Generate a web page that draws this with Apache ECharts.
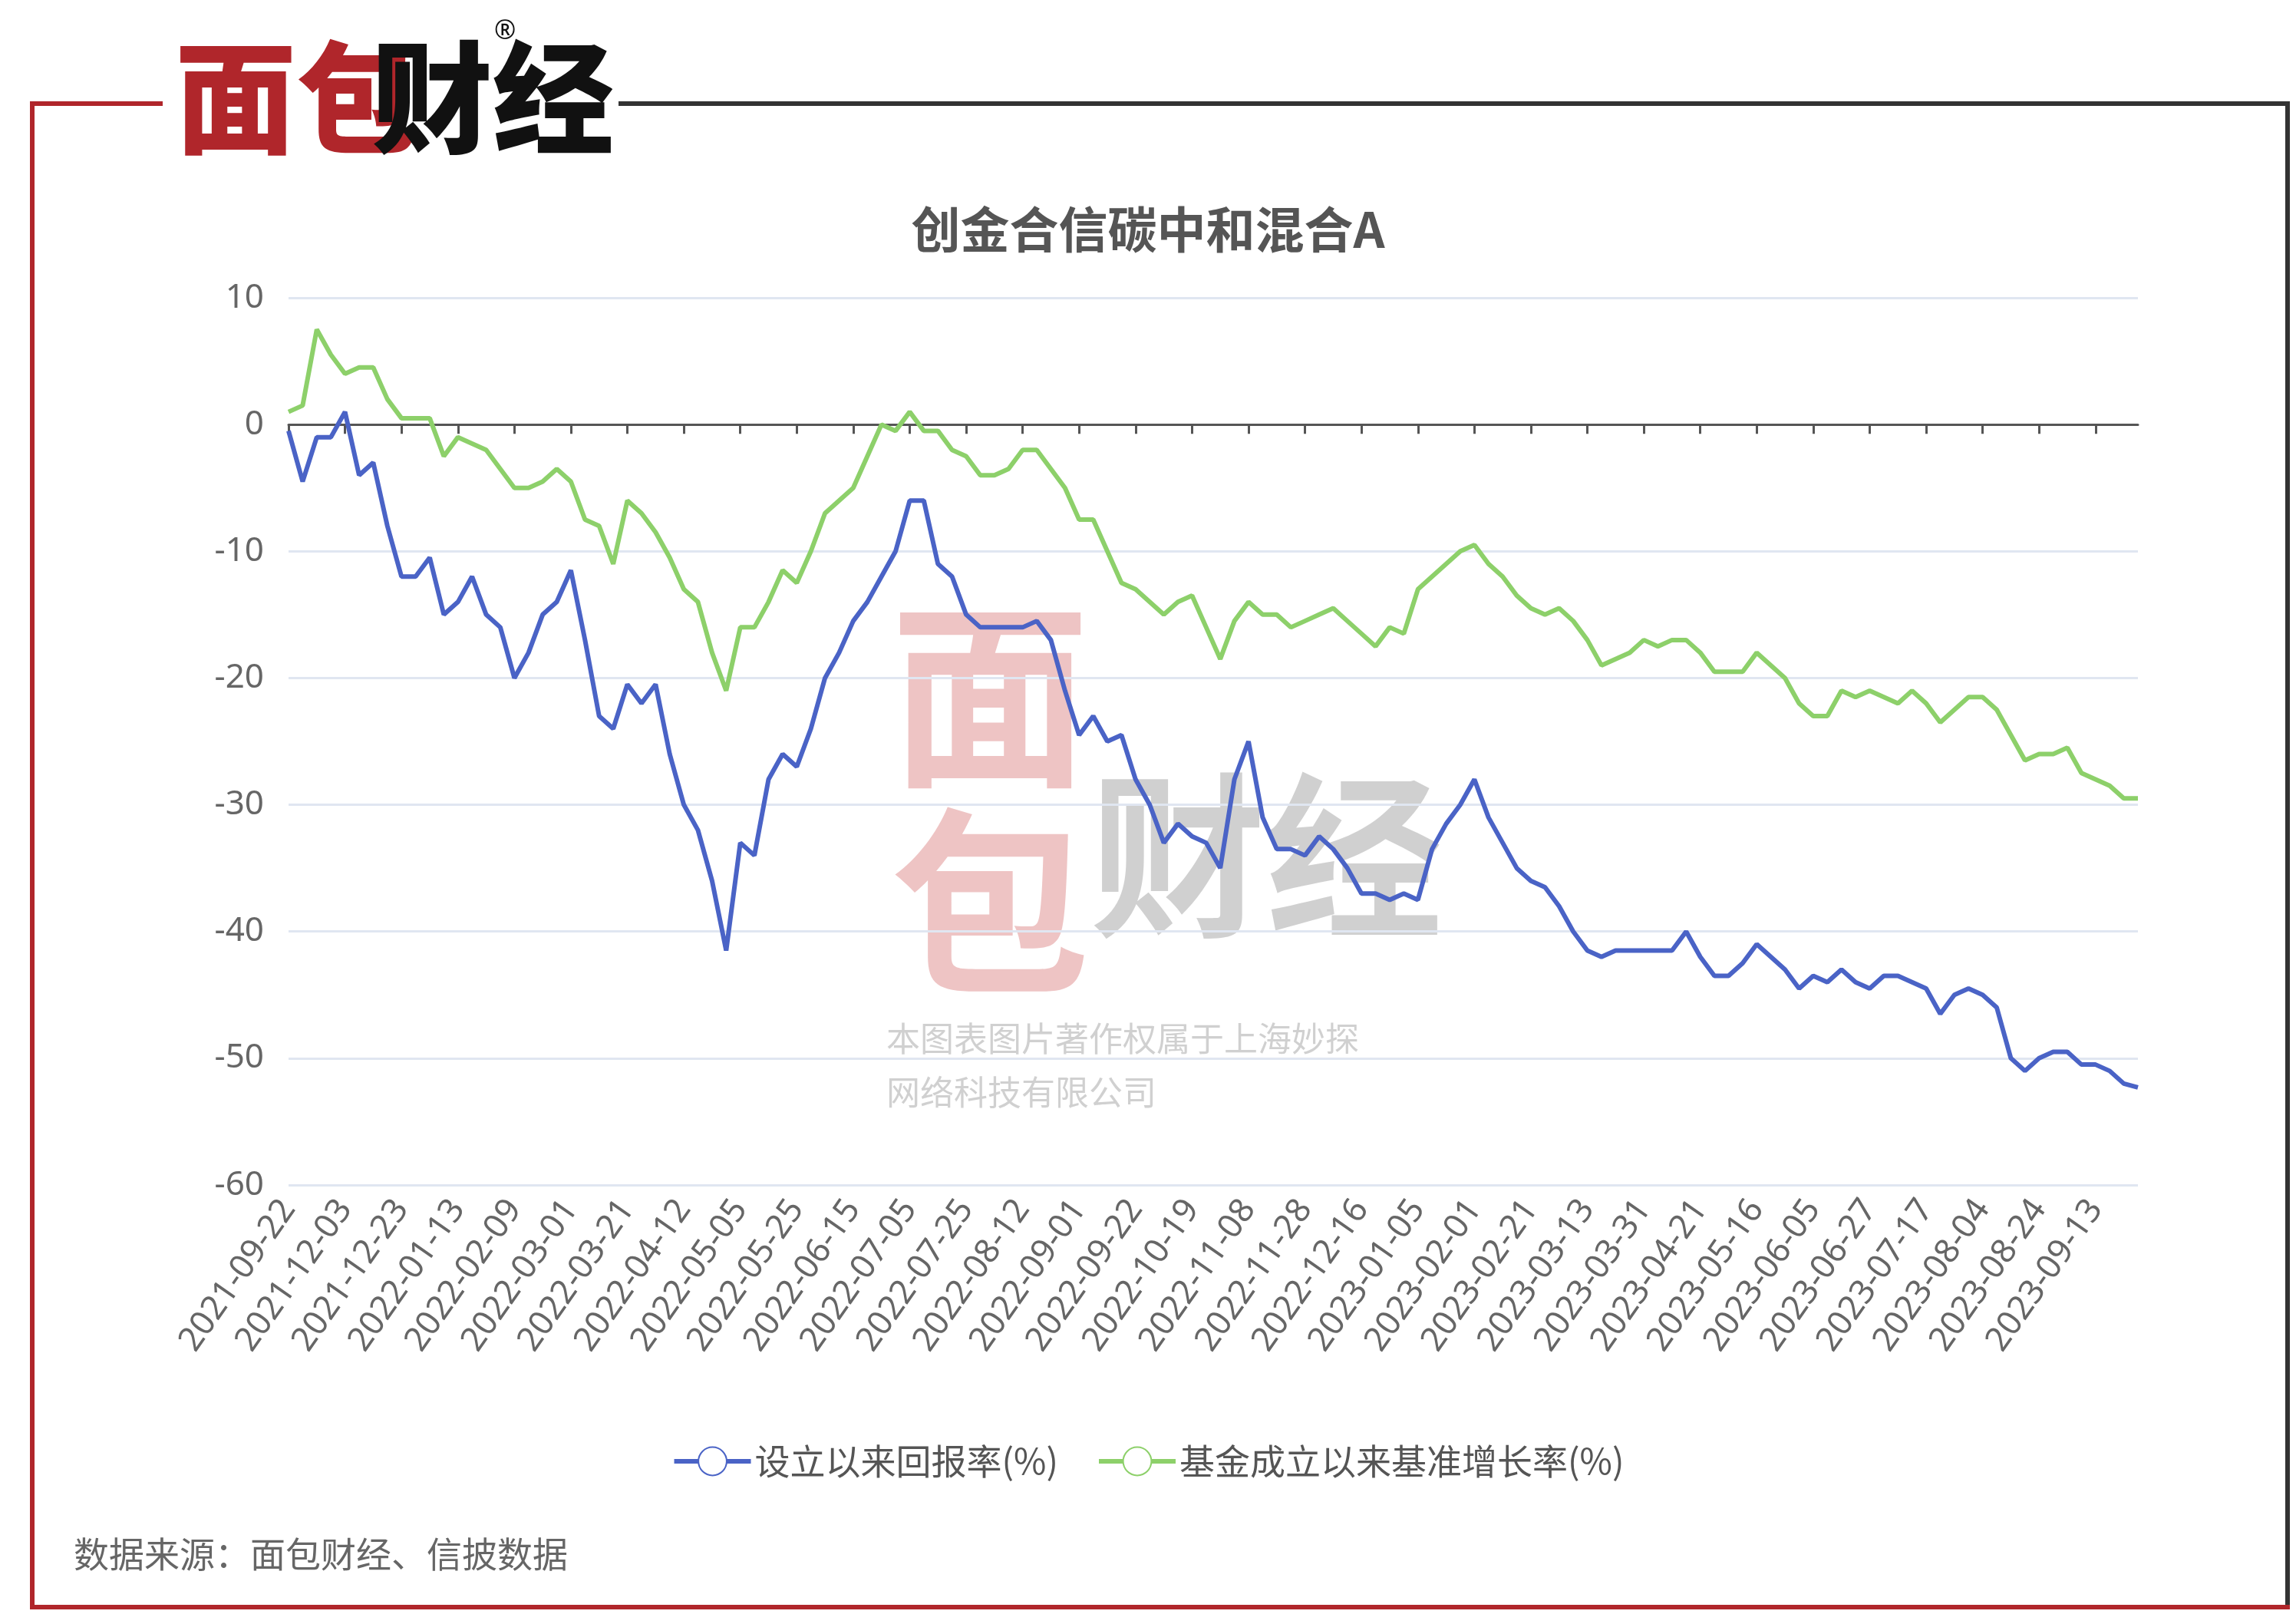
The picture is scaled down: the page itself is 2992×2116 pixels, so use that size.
<!DOCTYPE html>
<html><head><meta charset="utf-8">
<script src="https://cdn.jsdelivr.net/npm/echarts@6/dist/echarts.min.js"></script>
<style>html,body{margin:0;padding:0;background:#fff}#c{width:2992px;height:2116px}</style>
</head><body><div id="c"></div>
<script>
const tickLabels = ['2021-09-22','2021-12-03','2021-12-23','2022-01-13','2022-02-09','2022-03-01','2022-03-21','2022-04-12','2022-05-05','2022-05-25','2022-06-15','2022-07-05','2022-07-25','2022-08-12','2022-09-01','2022-09-22','2022-10-19','2022-11-08','2022-11-28','2022-12-16','2023-01-05','2023-02-01','2023-02-21','2023-03-13','2023-03-31','2023-04-21','2023-05-16','2023-06-05','2023-06-27','2023-07-17','2023-08-04','2023-08-24','2023-09-13'];
const fundReturn = [-0.5,-4.5,-1,-1,1,-4,-3,-8,-12,-12,-10.5,-15,-14,-12,-15,-16,-20,-18,-15,-14,-11.5,-17,-23,-24,-20.5,-22,-20.5,-26,-30,-32,-36,-41.5,-33,-34,-28,-26,-27,-24,-20,-18,-15.5,-14,-12,-10,-6,-6,-11,-12,-15,-16,-16,-16,-16,-15.5,-17,-21,-24.5,-23,-25,-24.5,-28,-30,-33,-31.5,-32.5,-33,-35,-28,-25,-31,-33.5,-33.5,-34,-32.5,-33.5,-35,-37,-37,-37.5,-37,-37.5,-33.5,-31.5,-30,-28,-31,-33,-35,-36,-36.5,-38,-40,-41.5,-42,-41.5,-41.5,-41.5,-41.5,-41.5,-40,-42,-43.5,-43.5,-42.5,-41,-42,-43,-44.5,-43.5,-44,-43,-44,-44.5,-43.5,-43.5,-44,-44.5,-46.5,-45,-44.5,-45,-46,-50,-51,-50,-49.5,-49.5,-50.5,-50.5,-51,-52,-52.3];
const benchReturn = [1,1.5,7.5,5.5,4,4.5,4.5,2,0.5,0.5,0.5,-2.5,-1,-1.5,-2,-3.5,-5,-5,-4.5,-3.5,-4.5,-7.5,-8,-11,-6,-7,-8.5,-10.5,-13,-14,-18,-21,-16,-16,-14,-11.5,-12.5,-10,-7,-6,-5,-2.5,0,-0.5,1,-0.5,-0.5,-2,-2.5,-4,-4,-3.5,-2,-2,-3.5,-5,-7.5,-7.5,-10,-12.5,-13,-14,-15,-14,-13.5,-16,-18.5,-15.5,-14,-15,-15,-16,-15.5,-15,-14.5,-15.5,-16.5,-17.5,-16,-16.5,-13,-12,-11,-10,-9.5,-11,-12,-13.5,-14.5,-15,-14.5,-15.5,-17,-19,-18.5,-18,-17,-17.5,-17,-17,-18,-19.5,-19.5,-19.5,-18,-19,-20,-22,-23,-23,-21,-21.5,-21,-21.5,-22,-21,-22,-23.5,-22.5,-21.5,-21.5,-22.5,-24.5,-26.5,-26,-26,-25.5,-27.5,-28,-28.5,-29.5,-29.5];
const seriesNames = ['设立以来回报率(%)','基金成立以来基准增长率(%)'];
const categories = fundReturn.map((_, i) => tickLabels[Math.min(Math.floor(i/4), tickLabels.length-1)] + (i%4 ? '#'+i : ''));
const fmt = v => v.split('#')[0];
const ch = echarts.init(document.getElementById('c'));
const RED = '#b0262b', DARK = '#333';
ch.setOption({
  animation:false,
  title:{text:'创金合信碳中和混合A',left:'center',top:262,textStyle:{fontSize:64,fontWeight:'bold',color:'#555',fontFamily:'Noto Sans CJK SC'}},
  legend:{top:1876,left:'center',itemWidth:100,itemHeight:46,itemGap:50,
    itemStyle:{borderWidth:6},lineStyle:{width:6},
    textStyle:{fontSize:46,color:'#555',fontFamily:'Noto Sans CJK SC'}},
  grid:{left:376,right:206,top:388,bottom:572},
  xAxis:[{type:'category',data:categories,boundaryGap:false,position:'bottom',
    axisLine:{show:false,onZero:false},axisTick:{show:false},
    axisLabel:{interval:3,rotate:55,fontSize:44,color:'#666',margin:24,formatter:fmt,fontFamily:'Noto Sans'}},
   {type:'category',data:categories,boundaryGap:false,position:'top',
    axisLine:{show:true,onZero:true,lineStyle:{color:'#555',width:3}},
    axisTick:{show:true,interval:3,inside:true,length:12,lineStyle:{color:'#555',width:3}},
    axisLabel:{show:false}}],
  yAxis:{type:'value',min:-60,max:10,interval:10,
    axisLabel:{fontSize:44,color:'#666',margin:32,fontFamily:'Noto Sans'},
    axisLine:{show:false},axisTick:{show:false},
    splitLine:{lineStyle:{color:'#e0e6f1',width:3}}},
  series:[
    {name:seriesNames[0],type:'line',data:fundReturn,symbol:'emptyCircle',showSymbol:false,symbolSize:36,
     itemStyle:{color:'#4a63c6',borderWidth:6},lineStyle:{width:6,color:'#4a63c6'},z:3},
    {name:seriesNames[1],type:'line',data:benchReturn,symbol:'emptyCircle',showSymbol:false,symbolSize:36,
     itemStyle:{color:'#8dd06a',borderWidth:6},lineStyle:{width:6,color:'#8dd06a'},z:2}
  ],
  graphic:[
    {type:'text',left:1160,top:770,z:-1,style:{text:'面\n包',font:'bold 260px "Noto Sans CJK SC"',fill:'rgba(200,60,60,0.3)',lineHeight:270}},
    {type:'text',left:1420,top:1000,z:-1,style:{text:'财经',font:'bold 230px "Noto Sans CJK SC"',fill:'rgba(120,120,120,0.35)'}},
    {type:'text',left:1155,top:1318,z:-1,style:{text:'本图表图片著作权属于上海妙探\n网络科技有限公司',font:'44px "Noto Sans CJK SC"',fill:'rgba(150,150,150,0.45)',lineHeight:70}},
    {type:'line',shape:{x1:42,y1:135,x2:212,y2:135},style:{stroke:RED,lineWidth:6}},
    {type:'line',shape:{x1:806,y1:135,x2:2981,y2:135},style:{stroke:DARK,lineWidth:6}},
    {type:'line',shape:{x1:2981,y1:132,x2:2981,y2:2094},style:{stroke:DARK,lineWidth:6}},
    {type:'line',shape:{x1:42,y1:132,x2:42,y2:2094},style:{stroke:RED,lineWidth:6}},
    {type:'line',shape:{x1:39,y1:2094,x2:2984,y2:2094},style:{stroke:RED,lineWidth:6}},
    {type:'text',left:228,top:48,style:{text:'面包',font:'900 158px "Noto Sans CJK SC"',fill:RED}},
    {type:'text',left:484,top:48,style:{text:'财经',font:'900 158px "Noto Sans CJK SC"',fill:'#111'}},
    {type:'text',left:644,top:24,style:{text:'®',font:'34px "Noto Sans"',fill:'#111'}},
    {type:'text',left:96,top:2002,style:{text:'数据来源：面包财经、信披数据',font:'46px "Noto Sans CJK SC"',fill:'#666'}}
  ]
});
</script></body></html>
